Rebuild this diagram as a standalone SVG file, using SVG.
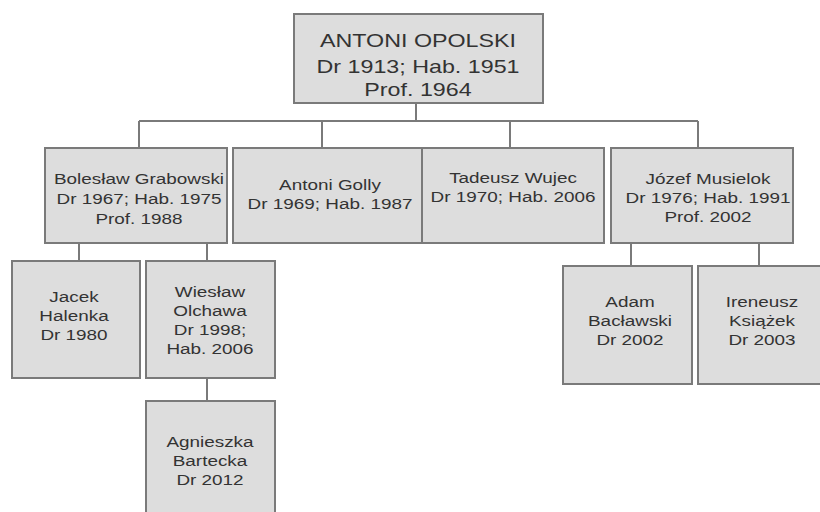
<svg xmlns="http://www.w3.org/2000/svg" width="820" height="512" viewBox="0 0 820 512">
<style>
.box{fill:#dddddd;stroke:#7a7a7a;stroke-width:2}
.ln{fill:none;stroke:#7a7a7a;stroke-width:2}
text{font-family:"Liberation Sans",Arial,sans-serif;fill:#333;text-anchor:middle}
.t{font-size:17.5px}
.s{font-size:15.5px}
</style>
<rect width="820" height="512" fill="#fff"/>
<g id="connectors">
<path class="ln" d="M416 103V121M139 121H698M139 121V148M322 121V148M510 121V148M698 121V148"/>
<path class="ln" d="M79 243V261M207 243V261M207 378V401M631 243V266M759 243V266"/>
</g>
<g id="opolski">
<rect class="box" x="294" y="14" width="249" height="89"/>
<text class="t" transform="translate(418,47) scale(1.33,1)">ANTONI OPOLSKI</text>
<text class="t" transform="translate(418,73) scale(1.33,1)">Dr 1913; Hab. 1951</text>
<text class="t" transform="translate(418,96) scale(1.33,1)">Prof. 1964</text>
</g>
<g id="grabowski">
<rect class="box" x="45" y="148" width="182" height="95"/>
<text class="s" transform="translate(139,184) scale(1.22,1)">Bolesław Grabowski</text>
<text class="s" transform="translate(139,204) scale(1.22,1)">Dr 1967; Hab. 1975</text>
<text class="s" transform="translate(139,224) scale(1.22,1)">Prof. 1988</text>
</g>
<g id="golly">
<rect class="box" x="233" y="148" width="189" height="95"/>
<text class="s" transform="translate(330,190) scale(1.22,1)">Antoni Golly</text>
<text class="s" transform="translate(330,209) scale(1.22,1)">Dr 1969; Hab. 1987</text>
</g>
<g id="wujec">
<rect class="box" x="422" y="148" width="182" height="95"/>
<text class="s" transform="translate(513,183) scale(1.22,1)">Tadeusz Wujec</text>
<text class="s" transform="translate(513,202) scale(1.22,1)">Dr 1970; Hab. 2006</text>
</g>
<g id="musielok">
<rect class="box" x="611" y="148" width="182" height="95"/>
<text class="s" transform="translate(708,184) scale(1.22,1)">Józef Musielok</text>
<text class="s" transform="translate(708,203) scale(1.22,1)">Dr 1976; Hab. 1991</text>
<text class="s" transform="translate(708,222) scale(1.22,1)">Prof. 2002</text>
</g>
<g id="halenka">
<rect class="box" x="12" y="261" width="128" height="117"/>
<text class="s" transform="translate(74,302) scale(1.22,1)">Jacek</text>
<text class="s" transform="translate(74,321) scale(1.22,1)">Halenka</text>
<text class="s" transform="translate(74,340) scale(1.22,1)">Dr 1980</text>
</g>
<g id="olchawa">
<rect class="box" x="146" y="261" width="129" height="117"/>
<text class="s" transform="translate(210,297) scale(1.22,1)">Wiesław</text>
<text class="s" transform="translate(210,316) scale(1.22,1)">Olchawa</text>
<text class="s" transform="translate(210,335) scale(1.22,1)">Dr 1998;</text>
<text class="s" transform="translate(210,354) scale(1.22,1)">Hab. 2006</text>
</g>
<g id="bartecka">
<rect class="box" x="146" y="401" width="129" height="120"/>
<text class="s" transform="translate(210,447) scale(1.22,1)">Agnieszka</text>
<text class="s" transform="translate(210,466) scale(1.22,1)">Bartecka</text>
<text class="s" transform="translate(210,485) scale(1.22,1)">Dr 2012</text>
</g>
<g id="baclawski">
<rect class="box" x="563" y="266" width="129" height="118"/>
<text class="s" transform="translate(630,307) scale(1.22,1)">Adam</text>
<text class="s" transform="translate(630,326) scale(1.22,1)">Bacławski</text>
<text class="s" transform="translate(630,345) scale(1.22,1)">Dr 2002</text>
</g>
<g id="ksiazek">
<rect class="box" x="698" y="266" width="130" height="118"/>
<text class="s" transform="translate(762,307) scale(1.22,1)">Ireneusz</text>
<text class="s" transform="translate(762,326) scale(1.22,1)">Książek</text>
<text class="s" transform="translate(762,345) scale(1.22,1)">Dr 2003</text>
</g>
</svg>
